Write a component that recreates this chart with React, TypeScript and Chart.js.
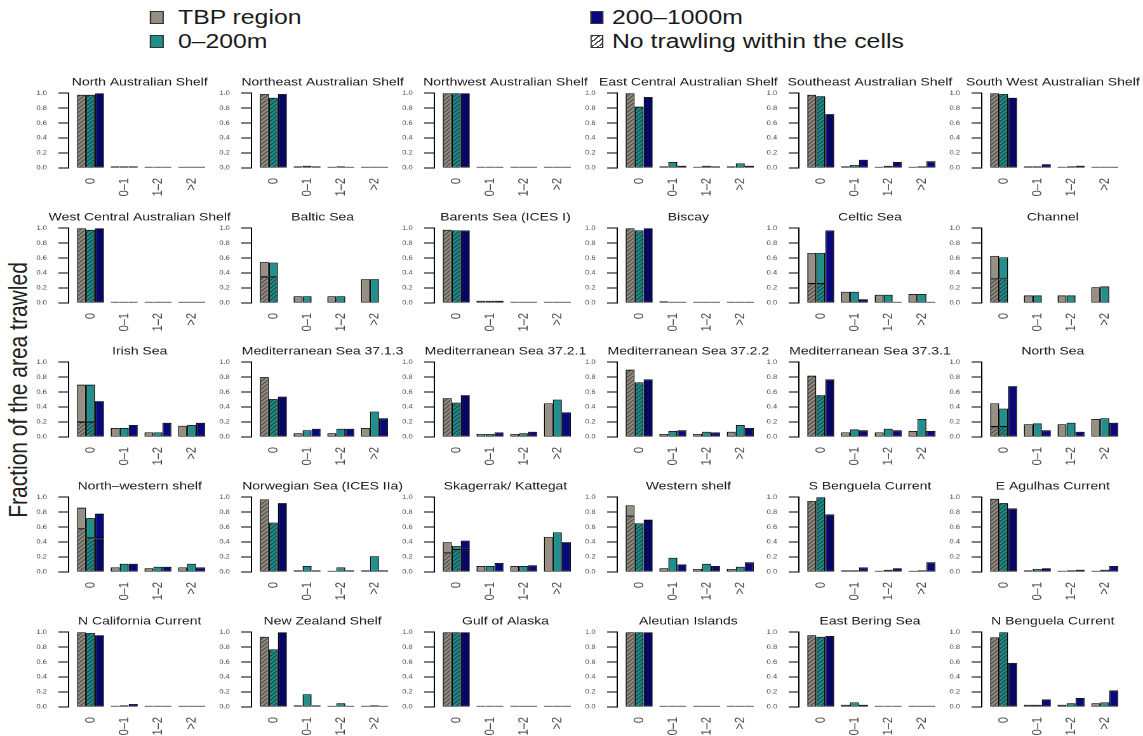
import React, { useEffect, useRef } from "react";
import { Chart, registerables } from "chart.js";

Chart.register(...registerables);

// ---------------- data ----------------
const panelTitles = [
  "North Australian Shelf", "Northeast Australian Shelf", "Northwest Australian Shelf",
  "East Central Australian Shelf", "Southeast Australian Shelf", "South West Australian Shelf",
  "West Central Australian Shelf", "Baltic Sea", "Barents Sea (ICES I)", "Biscay", "Celtic Sea", "Channel",
  "Irish Sea", "Mediterranean Sea 37.1.3", "Mediterranean Sea 37.2.1", "Mediterranean Sea 37.2.2",
  "Mediterranean Sea 37.3.1", "North Sea",
  "North\u2013western shelf", "Norwegian Sea (ICES IIa)", "Skagerrak/ Kattegat", "Western shelf",
  "S Benguela Current", "E Agulhas Current",
  "N California Current", "New Zealand Shelf", "Gulf of Alaska", "Aleutian Islands", "East Bering Sea",
  "N Benguela Current",
];

const xLabels = ["0", "0\u20131", "1\u20132", ">2"];
const yTickValues = [0, 0.2, 0.4, 0.6, 0.8, 1.0];

const seriesNames = ["TBP region", "0\u2013200m", "200\u20131000m"];
const legendHatchLabel = "No trawling within the cells";
const yAxisTitle = "Fraction of the area trawled";

const tbpValues: (number | null)[][] = [
  [0.98, 0.02, 0.01, 0.01], [0.99, 0.02, 0.01, 0.01], [1.0, 0.01, 0.01, 0.01],
  [1.0, 0.02, 0.01, 0.02], [0.98, 0.02, 0.01, 0.01], [1.0, 0.02, 0.01, 0.01],
  [1.0, 0.005, 0.005, 0.01], [0.55, 0.09, 0.09, 0.32], [0.98, 0.03, 0.01, 0.01],
  [1.0, 0.02, 0.005, 0.005], [0.67, 0.15, 0.11, 0.12], [0.63, 0.1, 0.1, 0.21],
  [0.7, 0.12, 0.06, 0.15], [0.8, 0.05, 0.05, 0.12], [0.52, 0.04, 0.04, 0.45],
  [0.9, 0.04, 0.04, 0.07], [0.82, 0.06, 0.06, 0.08], [0.45, 0.17, 0.17, 0.24],
  [0.86, 0.06, 0.05, 0.06], [0.97, 0.02, 0.01, 0.02], [0.4, 0.08, 0.08, 0.47],
  [0.89, 0.05, 0.04, 0.04], [0.95, 0.02, 0.01, 0.01], [0.98, 0.02, 0.01, 0.01],
  [1.0, 0.01, 0.005, 0.005], [0.94, 0.02, 0.01, 0.01], [1.0, 0.005, 0.005, 0.005],
  [1.0, 0.01, 0.005, 0.005], [0.96, 0.03, 0.01, 0.01], [0.93, 0.03, 0.03, 0.05],
];

const shallowValues: (number | null)[][] = [
  [0.98, 0.02, 0.01, 0.01], [0.94, 0.03, 0.02, 0.01], [1.0, 0.01, 0.01, 0.01],
  [0.82, 0.08, 0.03, 0.06], [0.96, 0.04, 0.03, 0.02], [0.99, 0.02, 0.02, 0.01],
  [0.98, 0.005, 0.005, 0.01], [0.54, 0.09, 0.09, 0.32], [0.97, 0.03, 0.01, 0.01],
  [0.97, 0.01, 0.005, 0.005], [0.67, 0.15, 0.11, 0.12], [0.61, 0.1, 0.1, 0.22],
  [0.7, 0.12, 0.06, 0.16], [0.51, 0.09, 0.11, 0.34], [0.46, 0.04, 0.05, 0.5],
  [0.73, 0.08, 0.07, 0.16], [0.56, 0.1, 0.11, 0.24], [0.38, 0.18, 0.19, 0.25],
  [0.72, 0.11, 0.07, 0.11], [0.66, 0.08, 0.06, 0.21], [0.35, 0.08, 0.08, 0.53],
  [0.65, 0.19, 0.11, 0.07], [1.0, 0.02, 0.03, 0.02], [0.92, 0.04, 0.02, 0.03],
  [0.99, 0.02, 0.005, 0.005], [0.77, 0.17, 0.05, 0.02], [1.0, 0.005, 0.005, 0.005],
  [1.0, 0.01, 0.005, 0.005], [0.94, 0.06, 0.01, 0.01], [1.0, 0.03, 0.05, 0.06],
];

const deepValues: (number | null)[][] = [
  [1.0, 0.02, 0.01, 0.01], [0.99, 0.02, 0.01, 0.01], [1.0, 0.01, 0.01, 0.01],
  [0.95, 0.03, 0.02, 0.03], [0.72, 0.11, 0.08, 0.09], [0.94, 0.05, 0.03, 0.01],
  [1.0, 0.005, 0.005, 0.01], [null, null, null, null], [0.97, 0.03, 0.01, 0.01],
  [1.0, 0.01, 0.005, 0.005], [0.97, 0.05, 0.01, 0.01], [null, null, null, null],
  [0.48, 0.16, 0.19, 0.19], [0.54, 0.11, 0.11, 0.25], [0.56, 0.06, 0.07, 0.33],
  [0.77, 0.09, 0.06, 0.12], [0.77, 0.09, 0.09, 0.08], [0.68, 0.09, 0.07, 0.19],
  [0.78, 0.11, 0.07, 0.06], [0.92, 0.02, 0.02, 0.02], [0.42, 0.12, 0.09, 0.4],
  [0.7, 0.1, 0.08, 0.13], [0.77, 0.06, 0.05, 0.13], [0.85, 0.05, 0.03, 0.08],
  [0.96, 0.04, 0.005, 0.005], [1.0, 0.02, 0.01, 0.01], [1.0, 0.005, 0.005, 0.005],
  [1.0, 0.005, 0.005, 0.005], [0.95, 0.03, 0.01, 0.01], [0.59, 0.1, 0.12, 0.22],
];

// hatched ("no trawling within the cells") part of the "0" bars
const hatchTbp = [
  0.98, 0.99, 1.0, 1.0, 0.98, 1.0,
  1.0, 0.35, 0.98, 1.0, 0.26, 0.32,
  0.2, 0.8, 0.52, 0.9, 0.82, 0.14,
  0.58, 0.97, 0.25, 0.75, 0.95, 0.98,
  1.0, 0.94, 1.0, 1.0, 0.96, 0.93,
];
const hatchShallow = [
  0.98, 0.94, 1.0, 0.82, 0.96, 0.99,
  0.98, 0.35, 0.97, 0.97, 0.26, 0.32,
  0.2, 0.51, 0.46, 0.73, 0.56, 0.14,
  0.45, 0.66, 0.3, 0.65, 1.0, 0.92,
  0.99, 0.77, 1.0, 1.0, 0.94, 1.0,
];
const hatchDeep = [
  1.0, 0.99, 1.0, 0.95, 0.72, 0.94,
  1.0, 0, 0.97, 1.0, 0, 0,
  0, 0.54, 0.56, 0.77, 0.77, 0,
  0.45, 0.92, 0.3, 0.7, 0.77, 0.85,
  0.96, 1.0, 1.0, 1.0, 0.95, 0.59,
];

// ---------------- styling ----------------
const FONT = "'Liberation Sans', Arial, Helvetica, sans-serif";
const seriesColors = ["#968f84", "#21908c", "#08087c"];
const seriesValues = [tbpValues, shallowValues, deepValues];
const seriesHatch = [hatchTbp, hatchShallow, hatchDeep];

const STRETCH = 1.27; // the figure is horizontally stretched
const PAGE_W = 1143 / STRETCH;
const Y_AXIS_W = 32;
const X_AXIS_H = 34;
const TITLE_H = 11 * 1.2 + 4;
const PLOT_H = 75;
const PLOT_W = 112;
const CANVAS_W = PLOT_W + 2 * Y_AXIS_W;
const CANVAS_H = Math.round(TITLE_H + PLOT_H + X_AXIS_H);

function panelLeft(col: number) {
  return (69 + 182.6 * col) / STRETCH - Y_AXIS_W;
}
function panelTop(row: number) {
  return 93 + 134.8 * row - TITLE_H;
}

function makeHatch(color: string) {
  const c = document.createElement("canvas");
  c.width = 4;
  c.height = 4;
  const g = c.getContext("2d")!;
  g.fillStyle = color;
  g.fillRect(0, 0, 4, 4);
  g.strokeStyle = "rgba(0,0,0,0.8)";
  g.lineWidth = 0.9;
  g.beginPath();
  g.moveTo(0, 4);
  g.lineTo(4, 0);
  g.moveTo(-1, 1);
  g.lineTo(1, -1);
  g.moveTo(3, 5);
  g.lineTo(5, 3);
  g.stroke();
  return g.createPattern(c, "repeat") as CanvasPattern;
}

function buildConfig(i: number, patterns: CanvasPattern[]): any {
  const datasets: any[] = [];
  seriesNames.forEach((name, s) => {
    const vals = seriesValues[s][i];
    const h = seriesHatch[s][i];
    const hatched = vals.map((v, k) => (k === 0 && v != null && h > 0 ? Math.min(h, v) : null));
    const plain = vals.map((v, k) => {
      if (v == null) return null;
      const rest = v - (hatched[k] ?? 0);
      return rest > 0.001 ? rest : null;
    });
    const common = {
      stack: "s" + s,
      yAxisID: "y",
      borderColor: "#000",
      borderWidth: 0.8,
      borderSkipped: false,
      categoryPercentage: 0.8,
      barPercentage: 1.0,
    };
    datasets.push({
      ...common,
      label: name + " (no trawling)",
      data: hatched.map((y, k) => ({ x: k, y })),
      backgroundColor: patterns[s],
    });
    datasets.push({
      ...common,
      label: name,
      data: plain.map((y, k) => ({ x: k, y })),
      backgroundColor: seriesColors[s],
      minBarLength: 1.2,
    });
  });

  return {
    type: "bar",
    data: { datasets },
    options: {
      animation: false,
      responsive: false,
      maintainAspectRatio: false,
      devicePixelRatio: 2,
      layout: { padding: 0 },
      plugins: {
        legend: { display: false },
        tooltip: { enabled: false },
        title: {
          display: true,
          text: panelTitles[i],
          color: "#1a1a1a",
          font: { size: 11, weight: "normal", family: FONT },
          padding: { top: 0, bottom: 4 },
        },
      },
      scales: {
        x: {
          type: "linear",
          min: -0.65,
          max: 3.57,
          offset: false,
          bounds: "data",
          grid: { display: false, drawTicks: false, offset: false },
          border: { display: false },
          ticks: {
            autoSkip: false,
            maxRotation: 90,
            minRotation: 90,
            padding: 10,
            color: "#4a4a4a",
            font: { size: 11, family: FONT },
            callback: (v: any) => xLabels[Number(v)] ?? "",
          },
          afterBuildTicks: (scale: any) => {
            scale.ticks = xLabels.map((_, k) => ({ value: k }));
          },
          afterFit: (scale: any) => {
            scale.height = X_AXIS_H;
          },
        },
        y: {
          type: "linear",
          position: "left",
          min: 0,
          max: 1,
          stacked: true,
          border: { display: true, color: "#000", width: 1 },
          grid: { drawOnChartArea: false, drawTicks: true, tickLength: 8, color: "#000", lineWidth: 1 },
          ticks: {
            color: "#4a4a4a",
            padding: 9,
            font: { size: 6, family: FONT },
            callback: (v: any) => Number(v).toFixed(1),
          },
          afterBuildTicks: (scale: any) => {
            scale.ticks = yTickValues.map((v) => ({ value: v }));
          },
          afterFit: (scale: any) => {
            scale.width = Y_AXIS_W;
          },
        },
        // empty spacer on the right so the title is centred over the plot
        ySpacer: {
          type: "linear",
          position: "right",
          min: 0,
          max: 1,
          display: true,
          grid: { display: false, drawTicks: false },
          border: { display: false },
          ticks: { display: false },
          afterFit: (scale: any) => {
            scale.width = Y_AXIS_W;
          },
        },
      },
    },
  };
}

const legendText: React.CSSProperties = {
  position: "absolute",
  fontFamily: FONT,
  fontSize: 19.5,
  lineHeight: "24px",
  color: "#1a1a1a",
  whiteSpace: "nowrap",
};

function LegendBox({ left, top, fill }: { left: number; top: number; fill: string }) {
  return (
    <div
      style={{
        position: "absolute",
        left,
        top,
        width: 10.5,
        height: 13,
        boxSizing: "border-box",
        border: "1px solid #333",
        background: fill,
      }}
    />
  );
}

export default function App() {
  const refs = useRef<(HTMLCanvasElement | null)[]>([]);

  useEffect(() => {
    Chart.defaults.font.family = FONT;
    const patterns = seriesColors.map(makeHatch);
    const charts = panelTitles.map((_, i) => {
      const canvas = refs.current[i];
      if (!canvas) return null;
      return new Chart(canvas, buildConfig(i, patterns));
    });
    return () => {
      charts.forEach((c) => c && c.destroy());
    };
  }, []);

  const hatchCss = "repeating-linear-gradient(135deg, #555 0px, #555 1.2px, #fff 1.2px, #fff 3.5px)";

  return (
    <div
      style={{
        position: "absolute",
        left: 0,
        top: 0,
        width: PAGE_W,
        height: 736,
        transform: `scaleX(${STRETCH})`,
        transformOrigin: "0 0",
        background: "#fff",
        overflow: "hidden",
      }}
    >
      {/* legend */}
      <LegendBox left={150 / STRETCH} top={10.5} fill={seriesColors[0]} />
      <div style={{ ...legendText, left: 178 / STRETCH, top: 5 }}>{seriesNames[0]}</div>
      <LegendBox left={150 / STRETCH} top={34.5} fill={seriesColors[1]} />
      <div style={{ ...legendText, left: 178 / STRETCH, top: 29 }}>{seriesNames[1]}</div>
      <LegendBox left={590 / STRETCH} top={10.5} fill={seriesColors[2]} />
      <div style={{ ...legendText, left: 612 / STRETCH, top: 5 }}>{seriesNames[2]}</div>
      <LegendBox left={590 / STRETCH} top={34.5} fill={hatchCss} />
      <div style={{ ...legendText, left: 612 / STRETCH, top: 29 }}>{legendHatchLabel}</div>

      {/* y axis title */}
      <div
        style={{
          position: "absolute",
          left: 18 / STRETCH,
          top: 390,
          transform: "translate(-50%, -50%) rotate(-90deg)",
          fontFamily: FONT,
          fontSize: 21,
          color: "#222",
          whiteSpace: "nowrap",
        }}
      >
        {yAxisTitle}
      </div>

      {panelTitles.map((t, i) => {
        const col = i % 6;
        const row = Math.floor(i / 6);
        return (
          <canvas
            key={t}
            ref={(el) => {
              refs.current[i] = el;
            }}
            width={CANVAS_W}
            height={CANVAS_H}
            style={{
              position: "absolute",
              left: panelLeft(col),
              top: panelTop(row),
              width: CANVAS_W,
              height: CANVAS_H,
            }}
          />
        );
      })}
    </div>
  );
}
